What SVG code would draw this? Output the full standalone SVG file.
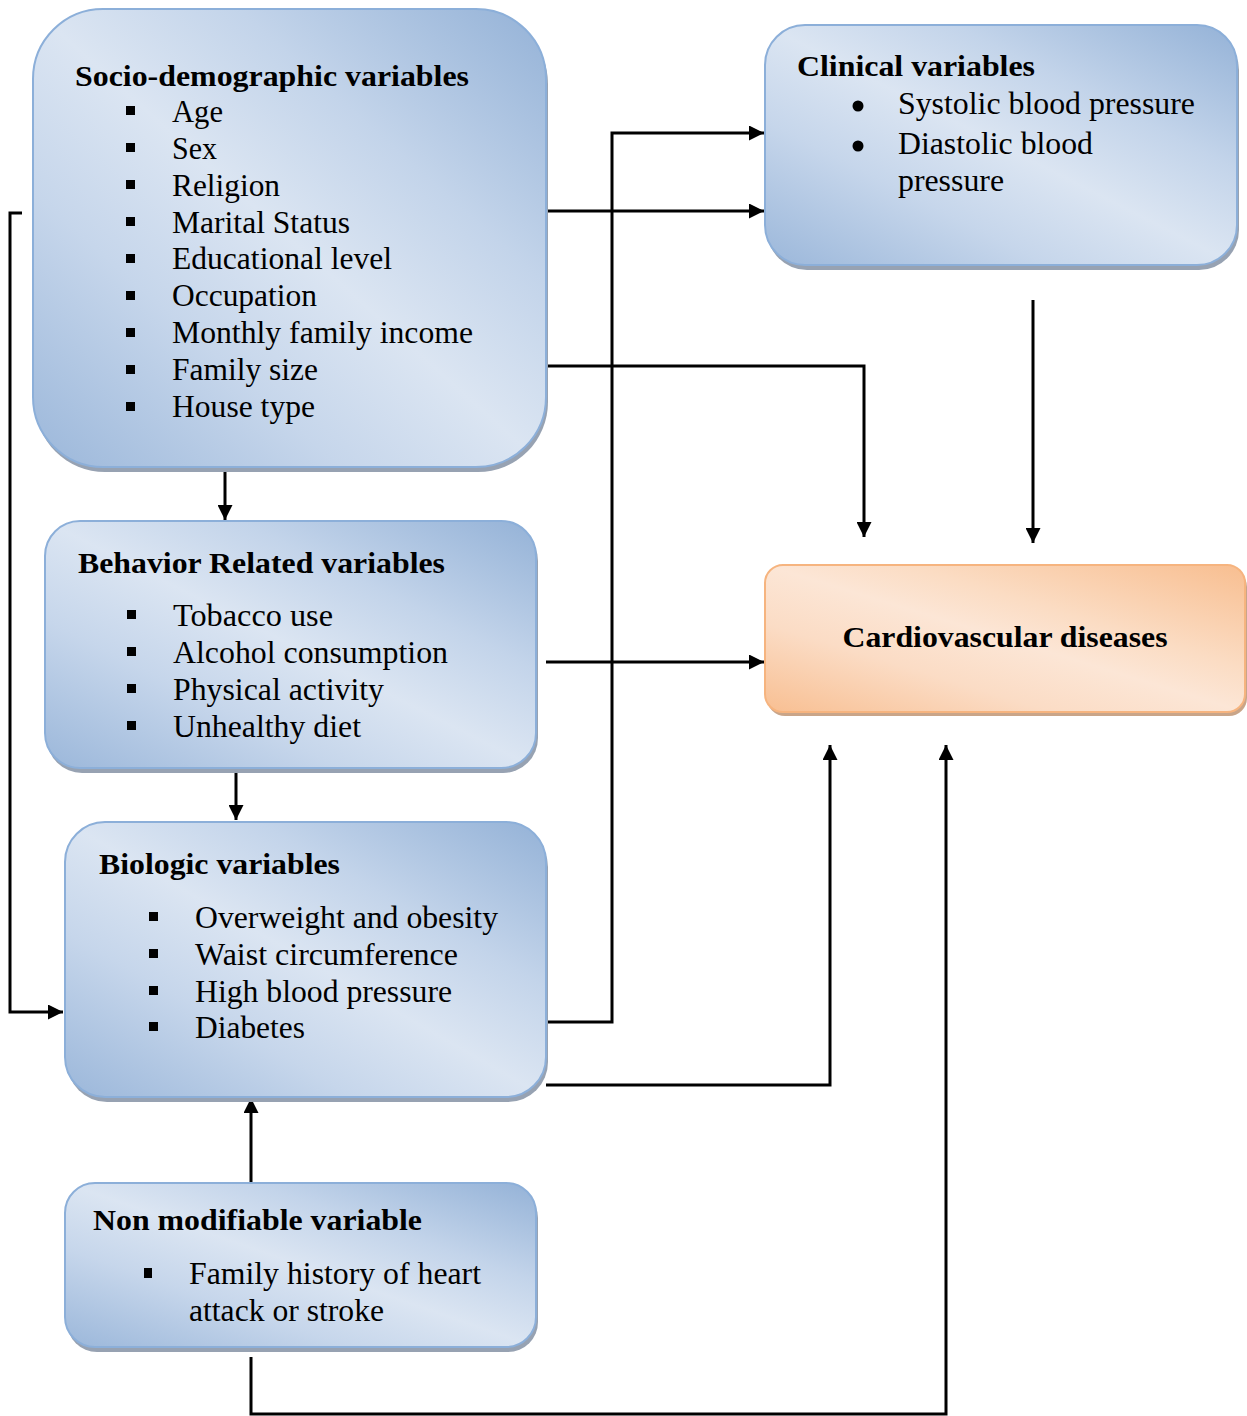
<svg xmlns="http://www.w3.org/2000/svg" width="1247" height="1416" viewBox="0 0 1247 1416">
<defs>
<linearGradient id="blue" x1="1" y1="0" x2="0" y2="1">
<stop offset="0" stop-color="#94b2d7"/>
<stop offset="0.3" stop-color="#c3d4ea"/>
<stop offset="0.5" stop-color="#dbe5f2"/>
<stop offset="0.7" stop-color="#c6d6eb"/>
<stop offset="1" stop-color="#9bb7da"/>
</linearGradient>
<linearGradient id="orange" x1="1" y1="0" x2="0" y2="1">
<stop offset="0" stop-color="#f8be90"/>
<stop offset="0.35" stop-color="#fbdcc3"/>
<stop offset="0.5" stop-color="#fce6d6"/>
<stop offset="0.7" stop-color="#fbdcc5"/>
<stop offset="1" stop-color="#f8bf92"/>
</linearGradient>
<marker id="arr" viewBox="0 0 10 10" refX="10" refY="5" markerWidth="5" markerHeight="5" markerUnits="strokeWidth" orient="auto">
<path d="M0,0 L10,5 L0,10 Z" fill="#000"/>
</marker>
<style>
.box{fill:url(#blue);stroke:#8cafd9;stroke-width:2}
.obox{fill:url(#orange);stroke:#f6b47f;stroke-width:2}
.sh{fill:#97a2b2}
.osh{fill:#c9a589}
.t{font-family:"Liberation Serif","Times New Roman",serif;font-size:31px;fill:#000}
.b{font-weight:bold;font-size:29px}
.bul{fill:#000}
.c{fill:none;stroke:#000;stroke-width:3}
</style>
</defs>

<g id="connectors">
<polyline class="c" points="22,213 10,213 10,1012 63,1012" marker-end="url(#arr)"/>
<line class="c" x1="225" y1="468" x2="225" y2="520" marker-end="url(#arr)"/>
<line class="c" x1="236" y1="769" x2="236" y2="820" marker-end="url(#arr)"/>
<line class="c" x1="546" y1="211" x2="764" y2="211" marker-end="url(#arr)"/>
<polyline class="c" points="546,1022 612,1022 612,133 764,133" marker-end="url(#arr)"/>
<polyline class="c" points="546,366 864,366 864,537" marker-end="url(#arr)"/>
<line class="c" x1="1033" y1="300" x2="1033" y2="543" marker-end="url(#arr)"/>
<line class="c" x1="546" y1="662" x2="764" y2="662" marker-end="url(#arr)"/>
<polyline class="c" points="546,1085 830,1085 830,745" marker-end="url(#arr)"/>
<polyline class="c" points="251,1357 251,1414 946,1414 946,745" marker-end="url(#arr)"/>
<line class="c" x1="251" y1="1183" x2="251" y2="1098" marker-end="url(#arr)"/>
</g>

<g id="socio">
<rect class="sh" x="35" y="14" width="513" height="458" rx="70"/>
<rect class="box" x="33" y="9" width="513" height="458" rx="70"/>
<text class="t b" x="75" y="86" textLength="394" lengthAdjust="spacingAndGlyphs">Socio-demographic variables</text>
<g class="bul">
<rect x="126" y="106" width="9" height="9"/><rect x="126" y="143" width="9" height="9"/><rect x="126" y="180" width="9" height="9"/>
<rect x="126" y="217" width="9" height="9"/><rect x="126" y="254" width="9" height="9"/><rect x="126" y="291" width="9" height="9"/>
<rect x="126" y="328" width="9" height="9"/><rect x="126" y="365" width="9" height="9"/><rect x="126" y="402" width="9" height="9"/>
</g>
<text class="t" x="172" y="122" textLength="51" lengthAdjust="spacingAndGlyphs">Age</text>
<text class="t" x="172" y="159" textLength="45" lengthAdjust="spacingAndGlyphs">Sex</text>
<text class="t" x="172" y="196" textLength="108" lengthAdjust="spacingAndGlyphs">Religion</text>
<text class="t" x="172" y="233" textLength="178" lengthAdjust="spacingAndGlyphs">Marital Status</text>
<text class="t" x="172" y="269" textLength="220" lengthAdjust="spacingAndGlyphs">Educational level</text>
<text class="t" x="172" y="306" textLength="145" lengthAdjust="spacingAndGlyphs">Occupation</text>
<text class="t" x="172" y="343" textLength="301" lengthAdjust="spacingAndGlyphs">Monthly family income</text>
<text class="t" x="172" y="380" textLength="146" lengthAdjust="spacingAndGlyphs">Family size</text>
<text class="t" x="172" y="417" textLength="143" lengthAdjust="spacingAndGlyphs">House type</text>
</g>

<g id="clinical">
<rect class="sh" x="767" y="30" width="472" height="240" rx="40"/>
<rect class="box" x="765" y="25" width="472" height="240" rx="40"/>
<text class="t b" x="797" y="76" textLength="238" lengthAdjust="spacingAndGlyphs">Clinical variables</text>
<circle class="bul" cx="858" cy="106" r="5.5"/>
<circle class="bul" cx="858" cy="146" r="5.5"/>
<text class="t" x="898" y="114" textLength="297" lengthAdjust="spacingAndGlyphs">Systolic blood pressure</text>
<text class="t" x="898" y="154" textLength="195" lengthAdjust="spacingAndGlyphs">Diastolic blood</text>
<text class="t" x="898" y="191" textLength="106" lengthAdjust="spacingAndGlyphs">pressure</text>
</g>

<g id="cvd">
<rect class="osh" x="767" y="569" width="480" height="147" rx="18"/>
<rect class="obox" x="765" y="565" width="480" height="147" rx="18"/>
<text class="t b" x="1005" y="647" text-anchor="middle" textLength="325" lengthAdjust="spacingAndGlyphs">Cardiovascular diseases</text>
</g>

<g id="behavior">
<rect class="sh" x="47" y="526" width="491" height="247" rx="35"/>
<rect class="box" x="45" y="521" width="491" height="247" rx="35"/>
<text class="t b" x="78" y="573" textLength="367" lengthAdjust="spacingAndGlyphs">Behavior Related variables</text>
<g class="bul">
<rect x="127" y="610" width="9" height="9"/><rect x="127" y="647" width="9" height="9"/>
<rect x="127" y="684" width="9" height="9"/><rect x="127" y="721" width="9" height="9"/>
</g>
<text class="t" x="173" y="626" textLength="160" lengthAdjust="spacingAndGlyphs">Tobacco use</text>
<text class="t" x="173" y="663" textLength="275" lengthAdjust="spacingAndGlyphs">Alcohol consumption</text>
<text class="t" x="173" y="700" textLength="211" lengthAdjust="spacingAndGlyphs">Physical activity</text>
<text class="t" x="173" y="737" textLength="188" lengthAdjust="spacingAndGlyphs">Unhealthy diet</text>
</g>

<g id="biologic">
<rect class="sh" x="67" y="827" width="481" height="275" rx="40"/>
<rect class="box" x="65" y="822" width="481" height="275" rx="40"/>
<text class="t b" x="99" y="874" textLength="241" lengthAdjust="spacingAndGlyphs">Biologic variables</text>
<g class="bul">
<rect x="149" y="912" width="9" height="9"/><rect x="149" y="949" width="9" height="9"/>
<rect x="149" y="986" width="9" height="9"/><rect x="149" y="1022" width="9" height="9"/>
</g>
<text class="t" x="195" y="928" textLength="303" lengthAdjust="spacingAndGlyphs">Overweight and obesity</text>
<text class="t" x="195" y="965" textLength="263" lengthAdjust="spacingAndGlyphs">Waist circumference</text>
<text class="t" x="195" y="1002" textLength="257" lengthAdjust="spacingAndGlyphs">High blood pressure</text>
<text class="t" x="195" y="1038" textLength="110" lengthAdjust="spacingAndGlyphs">Diabetes</text>
</g>

<g id="nonmod">
<rect class="sh" x="67" y="1188" width="471" height="164" rx="30"/>
<rect class="box" x="65" y="1183" width="471" height="164" rx="30"/>
<text class="t b" x="93" y="1230" textLength="329" lengthAdjust="spacingAndGlyphs">Non modifiable variable</text>
<rect class="bul" x="144" y="1268" width="8" height="10"/>
<text class="t" x="189" y="1284" textLength="292" lengthAdjust="spacingAndGlyphs">Family history of heart</text>
<text class="t" x="189" y="1321" textLength="195" lengthAdjust="spacingAndGlyphs">attack or stroke</text>
</g>
</svg>
